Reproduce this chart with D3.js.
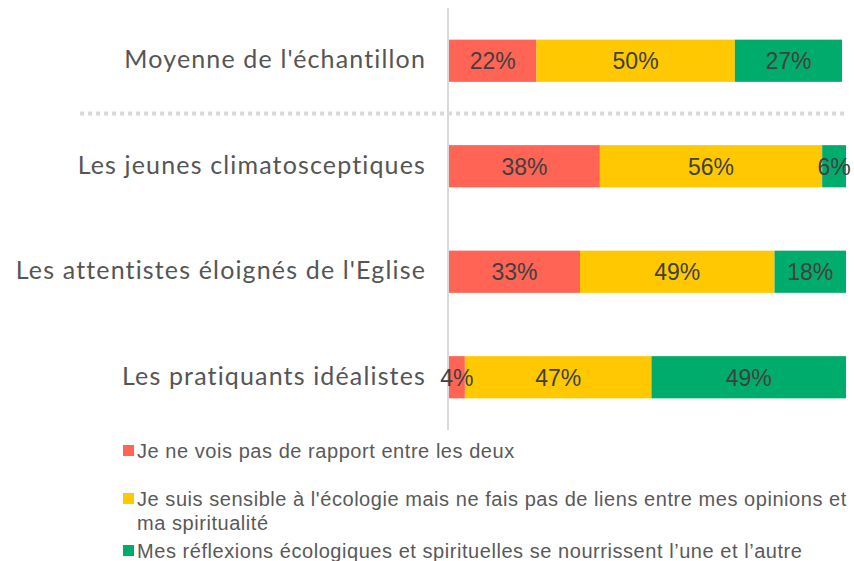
<!DOCTYPE html>
<html>
<head>
<meta charset="utf-8">
<script src="https://cdn.jsdelivr.net/npm/d3@7"></script>
<style>
  body { margin: 0; background: #fff; }
  svg { display: block; }
</style>
</head>
<body>
<div id="chart"></div>
<script>
// chart data
const groups = [
    "Moyenne de l'échantillon",
    "Les jeunes climatosceptiques",
    "Les attentistes éloignés de l'Eglise",
    "Les pratiquants idéalistes"
];
const seriesNames = [
    "Je ne vois pas de rapport entre les deux",
    "Je suis sensible à l'écologie mais ne fais pas de liens entre mes opinions et ma spiritualité",
    "Mes réflexions écologiques et spirituelles se nourrissent l\u2019une et l\u2019autre"
];
const noLink = [22, 38, 33, 4];
const sensitive = [50, 56, 49, 47];
const nourish = [27, 6, 18, 49];
const colors = ["#FF6455", "#FFC800", "#00AC6B"];

const width = 854, height = 561;

const svg = d3.select('#chart')
    .append('svg')
    .attr('width', width)
    .attr('height', height);

const x = d3.scaleLinear().domain([0, 100]).range([449, 846]);
const y = d3.scaleBand().domain(groups).range([8, 430]).paddingInner(0.6).paddingOuter(0.3);

const rows = groups.map((g, i) => {
    const vals = [noLink[i], sensitive[i], nourish[i]];
    let acc = 0;
    return vals.map((v, k) => {
        const seg = { group: g, k, v, x0: acc, x1: acc + v };
        acc += v;
        return seg;
    });
});

// separator under the sample average
const sepY = (y(groups[0]) + y.bandwidth() + y(groups[1])) / 2;
svg.append('line')
    .attr('x1', 80).attr('x2', 848)
    .attr('y1', sepY).attr('y2', sepY)
    .attr('stroke', '#d9d9d9')
    .attr('stroke-width', 4)
    .attr('stroke-dasharray', '4,4');

// vertical axis
svg.append('line')
    .attr('x1', 448).attr('x2', 448)
    .attr('y1', 8).attr('y2', 430)
    .attr('stroke', '#d9d9d9')
    .attr('stroke-width', 2);

// bars
const bars = svg.append('g');
rows.flat().forEach(d => {
    bars.append('rect')
        .attr('x', x(d.x0))
        .attr('y', y(d.group))
        .attr('width', x(d.x1) - x(d.x0))
        .attr('height', y.bandwidth())
        .attr('fill', colors[d.k]);
});
rows.flat().forEach(d => {
    bars.append('text')
        .attr('x', (x(d.x0) + x(d.x1)) / 2)
        .attr('y', y(d.group) + y.bandwidth() / 2)
        .attr('dy', '0.36em')
        .attr('text-anchor', 'middle')
        .attr('font-family', 'Liberation Sans, Arial, sans-serif')
        .attr('font-size', 23)
        .attr('fill', '#404040')
        .text(d.v + '%');
});

// category labels
svg.append('g').selectAll('text')
    .data(groups)
    .enter()
    .append('text')
    .attr('x', 426)
    .attr('y', d => y(d) + y.bandwidth() / 2)
    .attr('dy', '0.29em')
    .attr('text-anchor', 'end')
    .attr('font-family', 'Lato, sans-serif')
    .attr('font-size', 25)
    .attr('letter-spacing', 1.15)
    .attr('fill', '#555555')
    .text(d => d);

// legend
const legendLines = [
    [seriesNames[0]],
    ["Je suis sensible à l'écologie mais ne fais pas de liens entre mes opinions et", "ma spiritualité"],
    [seriesNames[2]]
];
const legendY = [451, 499, 551];
const legend = svg.append('g');
legendLines.forEach((lines, i) => {
    legend.append('rect')
        .attr('x', 123).attr('y', legendY[i] - 6)
        .attr('width', 11).attr('height', 11)
        .attr('fill', colors[i]);
    lines.forEach((ln, j) => {
        legend.append('text')
            .attr('x', 137)
            .attr('y', legendY[i] + j * 24)
            .attr('dy', '0.35em')
            .attr('font-family', 'Liberation Sans, Arial, sans-serif')
            .attr('font-size', 20)
            .attr('letter-spacing', 0.55)
            .attr('fill', '#595959')
            .text(ln);
    });
});
</script>
</body>
</html>
